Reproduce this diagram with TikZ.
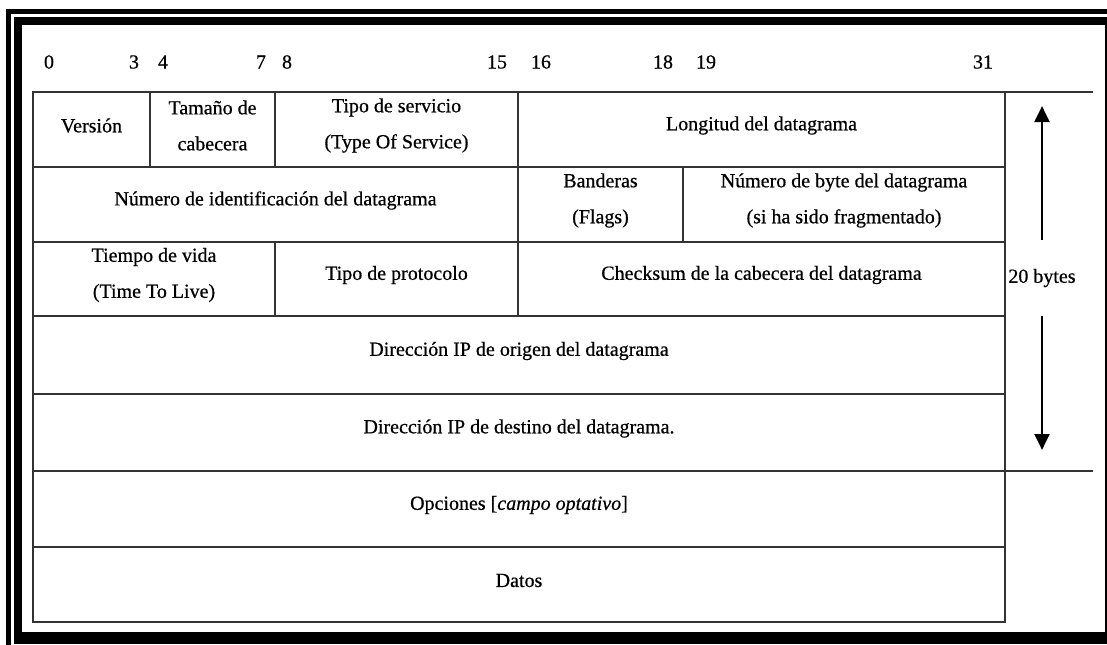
\documentclass[tikz,border=0pt]{standalone}
\usepackage{fontspec}
\setmainfont{Liberation Serif}[FakeBold=0.6]
\usetikzlibrary{arrows.meta}

\begin{document}
\begin{tikzpicture}[
    x=0.75pt,
    y=-0.75pt,
    font=\fontsize{15pt}{27pt}\selectfont,
    fieldline/.style={draw=black!80, line width=1.5pt},
    fieldtext/.style={align=center, inner sep=0pt},
    bitnum/.style={inner sep=0pt},
    sizearrow/.style={-{Triangle[width=11pt, length=12pt]}, line width=2.2pt}
]

    % --- Makro fuer ein Feld des IP-Kopfes ---
    \newcommand{\ipField}[6]{
        \draw[fieldline] (#2,#3) rectangle (#4,#5);
        \node[fieldtext] (#1) at ({(#2+#4)/2}, {(#3+#5)/2-4}) {#6};
    }

    % Rahmen
    \useasboundingbox (0,0) rectangle (1107,644);
    \clip (0,0) rectangle (1107,644);
    \draw[line width=3.75pt] (8,11) rectangle (1130,660);
    \draw[line width=6pt] (18,21) rectangle (1109,636);
    \fill (14,632) rectangle (1107,644);

    % Bitnummern
    \foreach \pos/\bit in {49/0, 134/3, 163/4, 261/7, 287/8, 497/15, 541/16, 663/18, 706/19, 983/31}
        \node[bitnum] (bit\bit) at (\pos,62) {\bit};

    % Zeile 1
    \ipField{version}{33}{92}{150}{167}{Versión}
    \ipField{hlen}{150}{92}{275}{167}{Tamaño de\\cabecera}
    \ipField{tos}{275}{92}{518}{167}{Tipo de servicio\\(Type Of Service)}
    \ipField{totlen}{518}{92}{1005}{167}{Longitud del datagrama}

    % Zeile 2
    \ipField{ident}{33}{167}{518}{242}{Número de identificación del datagrama}
    \ipField{flags}{518}{167}{683}{242}{Banderas\\(Flags)}
    \ipField{offset}{683}{167}{1005}{242}{Número de byte del datagrama\\(si ha sido fragmentado)}

    % Zeile 3
    \ipField{ttl}{33}{242}{275}{316}{Tiempo de vida\\(Time To Live)}
    \ipField{proto}{275}{242}{518}{316}{Tipo de protocolo}
    \ipField{checksum}{518}{242}{1005}{316}{Checksum de la cabecera del datagrama}

    % Adressen, Optionen, Daten
    \ipField{srcip}{33}{316}{1005}{394}{Dirección IP de origen del datagrama}
    \ipField{dstip}{33}{394}{1005}{471}{Dirección IP de destino del datagrama.}
    \ipField{options}{33}{471}{1005}{547}{Opciones [\textit{campo optativo}]}
    \ipField{data}{33}{547}{1005}{622}{Datos}

    % Spalte "20 bytes"
    \draw[fieldline] (1005,92) -- (1093,92);
    \draw[fieldline] (1005,471) -- (1093,471);
    \node[fieldtext, minimum height=57pt] (bytes) at (1042,278) {20 bytes};
    \coordinate (bytesTop) at (1042,106);
    \coordinate (bytesBot) at (1042,450);
    \draw[sizearrow] (bytes.north) -- (bytesTop);
    \draw[sizearrow] (bytes.south) -- (bytesBot);

\end{tikzpicture}
\end{document}
